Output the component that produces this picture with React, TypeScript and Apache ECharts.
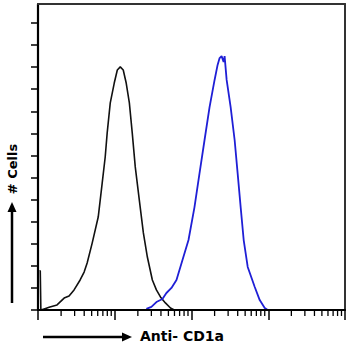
import React, { useEffect, useRef } from "react";
import * as echarts from "echarts";

// Isotype control (black) histogram: [fluorescence channel, count]
const controlX = [1.045, 1.07, 1.09, 1.2, 1.43, 1.77, 2.19, 2.54, 2.95, 3.54, 3.99, 4.37, 5.08, 6.09, 6.86, 7.51, 7.97, 8.74, 9.85, 10.8, 11.8, 12.9, 14.1, 15.5, 16.9, 18.5, 20.9, 23.6, 26.6, 30.9, 34.9, 39.4, 45.7, 53.2, 59.7];
const controlY = [17.7, 17.7, 0, 0.5, 1.4, 2.3, 5.4, 6.3, 9.1, 13.6, 17.2, 21.3, 30.3, 42.1, 57.5, 69.3, 80.2, 93.8, 102.8, 108.7, 110.1, 108.7, 102.8, 93.8, 80.2, 64.8, 49.8, 34.9, 24.0, 13.6, 9.1, 5.9, 3.2, 0.9, 0];

// Anti-CD1a (blue) histogram
const cd1aX = [25.8, 30.0, 34.9, 41.8, 47.1, 54.8, 63.7, 76.3, 91.4, 109.4, 127.3, 147.9, 171.9, 199.9, 218.8, 232.4, 246.8, 262, 270, 287, 323.6, 364.8, 399, 437, 478.6, 540, 667, 774, 900, 985];
const cd1aY = [0.5, 1.4, 3.6, 5.0, 7.7, 10.0, 13.6, 22.6, 31.7, 46.6, 62.0, 77.0, 91.9, 104.2, 111.0, 114.1, 115.0, 112.3, 115.0, 104.2, 91.9, 77.0, 62.0, 46.6, 31.7, 19.5, 10.4, 4.5, 0.9, 0];

const yTicks = [0, 10, 20, 30, 40, 50, 60, 70, 80, 90, 100, 110, 120, 130];
const minorTicks: number[] = [];
[1, 10, 100, 1000].forEach((d) => {
  for (let m = 2; m <= 9; m++) minorTicks.push(m * d);
});

export default function App() {
  const ref = useRef<HTMLDivElement>(null);
  useEffect(() => {
    if (!ref.current) return;
    const chart = echarts.init(ref.current, undefined, { renderer: "svg" });
    const frameAxis = {
      axisLine: { show: true, onZero: false, lineStyle: { color: "#333", width: 2 } },
      axisTick: { show: false },
      axisLabel: { show: false },
      splitLine: { show: false },
    };
    chart.setOption({
      animation: false,
      backgroundColor: "#fff",
      grid: { left: 38, right: 5, top: 4, bottom: 37 },
      xAxis: [
        {
          type: "log",
          logBase: 10,
          min: 1,
          max: 10000,
          splitNumber: 4,
          axisLine: { onZero: false, lineStyle: { color: "#000", width: 2 } },
          axisTick: { show: true, length: 10, lineStyle: { color: "#000", width: 1.5 } },
          axisLabel: { show: false },
          splitLine: { show: false },
          z: 6,
        },
        { type: "value", position: "top", min: 0, max: 1, ...frameAxis },
      ],
      yAxis: [
        {
          type: "value",
          min: 0,
          max: 138.6,
          interval: 10,
          axisLine: { show: true, onZero: false, lineStyle: { color: "#000", width: 2.2 } },
          axisTick: {
            show: true,
            length: 7,
            customValues: yTicks,
            lineStyle: { color: "#000", width: 1.5 },
          },
          axisLabel: { show: false },
          splitLine: { show: false },
        },
        { type: "value", position: "right", min: 0, max: 1, ...frameAxis },
      ],
      series: [
        {
          type: "line",
          data: controlX.map((x, i) => [x, controlY[i]]),
          showSymbol: false,
          lineStyle: { color: "#111", width: 1.6 },
          z: 3,
        },
        {
          type: "line",
          data: cd1aX.map((x, i) => [x, cd1aY[i]]),
          showSymbol: false,
          lineStyle: { color: "#1f1fd6", width: 1.8 },
          z: 4,
        },
        {
          type: "custom",
          clip: false,
          silent: true,
          data: minorTicks.map((v) => [v, 0]),
          encode: { x: 0, y: 1 },
          renderItem: (params: any, api: any) => {
            const p = api.coord([api.value(0), 0]);
            return {
              type: "line",
              shape: { x1: p[0], y1: p[1], x2: p[0], y2: p[1] + 6 },
              style: { stroke: "#000", lineWidth: 1.3 },
            };
          },
          z: 5,
        },
      ],
      graphic: [
        { type: "line", shape: { x1: 12, y1: 303, x2: 12, y2: 210 }, style: { stroke: "#000", lineWidth: 2.5 } },
        { type: "polygon", shape: { points: [[12, 202], [7.5, 212], [16.5, 212]] }, style: { fill: "#000" } },
        {
          type: "text",
          x: 12,
          y: 169,
          rotation: Math.PI / 2,
          style: {
            text: "# Cells",
            font: "bold 13px 'DejaVu Sans'",
            fill: "#000",
            align: "center",
            verticalAlign: "middle",
          },
        },
        { type: "line", shape: { x1: 43, y1: 337, x2: 124, y2: 337 }, style: { stroke: "#000", lineWidth: 2.5 } },
        { type: "polygon", shape: { points: [[132, 337], [122, 332.5], [122, 341.5]] }, style: { fill: "#000" } },
        {
          type: "text",
          x: 140,
          y: 336,
          style: {
            text: "Anti- CD1a",
            font: "bold 14px 'DejaVu Sans'",
            fill: "#000",
            align: "left",
            verticalAlign: "middle",
          },
        },
      ],
    });
    return () => chart.dispose();
  }, []);
  return <div ref={ref} style={{ width: 350, height: 347, position: "fixed", left: 0, top: 0 }} />;
}
